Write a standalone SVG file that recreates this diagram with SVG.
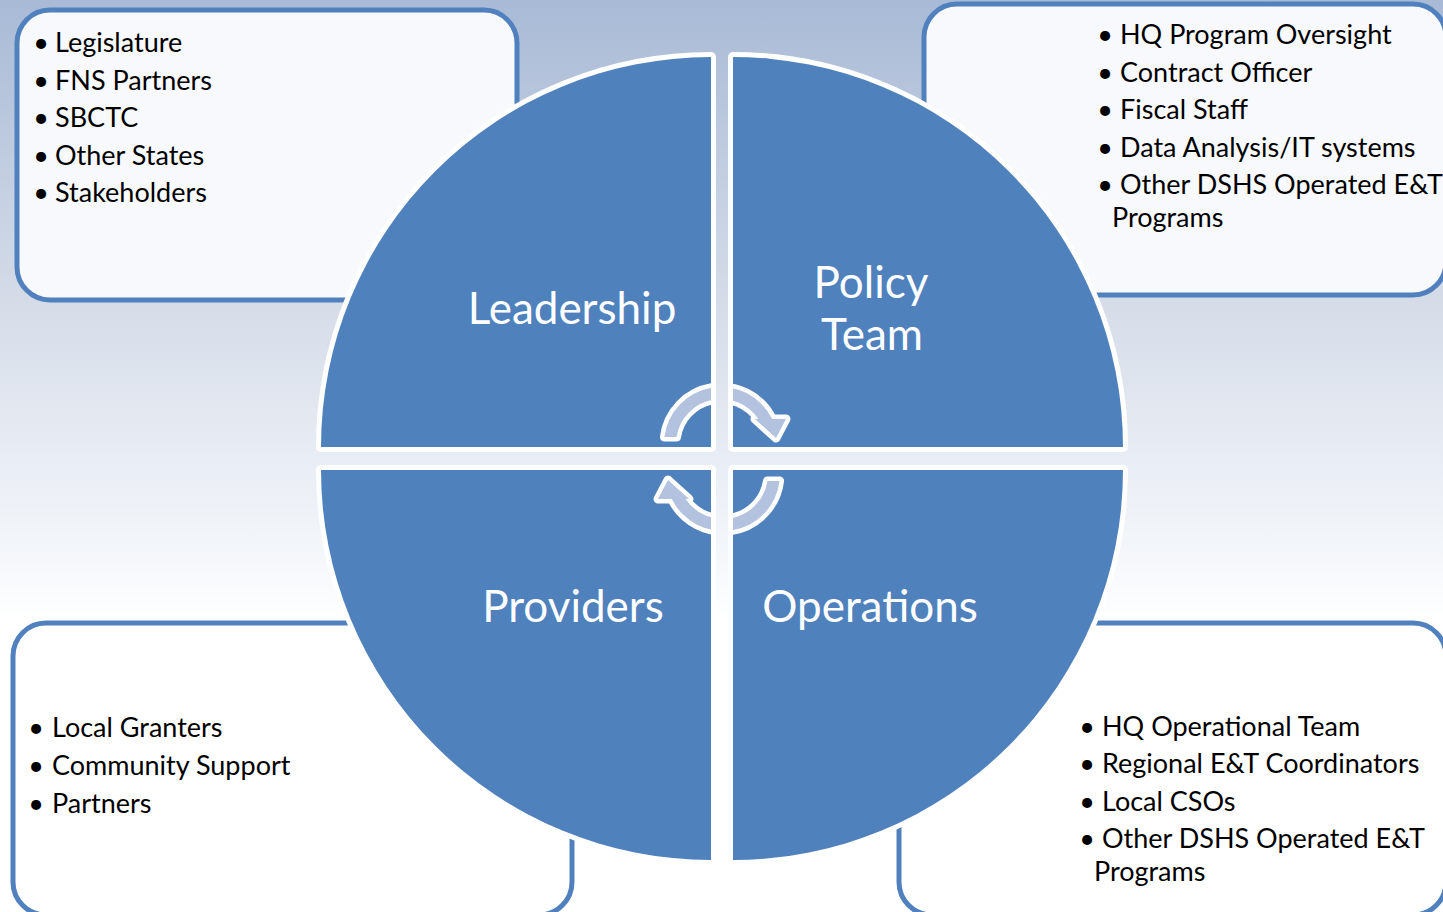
<svg xmlns="http://www.w3.org/2000/svg" width="1443" height="912" viewBox="0 0 1443 912">
  <defs>
    <linearGradient id="bg" x1="0" y1="0" x2="0" y2="912" gradientUnits="userSpaceOnUse">
      <stop offset="0" stop-color="#a8bad6"/>
      <stop offset="0.33" stop-color="#d5dce8"/>
      <stop offset="0.5" stop-color="#e8ecf4"/>
      <stop offset="0.6" stop-color="#f3f6fa"/>
      <stop offset="0.68" stop-color="#ffffff"/>
      <stop offset="1" stop-color="#ffffff"/>
    </linearGradient>
    <style>
      .box { stroke: #5081be; stroke-width: 5; }
      .box-top { fill: #f7f9fc; }
      .box-bottom { fill: #ffffff; }
      .item { font-family: Lato, "Open Sans", sans-serif; font-size: 27px; fill: #000000; }
      .bullet { font-family: Lato, "Open Sans", sans-serif; font-size: 27px; fill: #000000; text-anchor: middle; }
      .quad { fill: #4f81bd; stroke: #ffffff; stroke-width: 10; stroke-linejoin: round; paint-order: stroke; }
      .label { font-family: Lato, "Open Sans", sans-serif; font-size: 44px; fill: #ffffff; text-anchor: middle; }
      .cycle { fill: #b3c2de; stroke: #ffffff; stroke-width: 9; stroke-linejoin: round; paint-order: stroke; }
    </style>
  </defs>

  <!-- backdrop -->
  <rect x="0" y="0" width="1443" height="912" fill="url(#bg)"/>

  <!-- outer boxes listing the members of each quadrant -->
  <g id="box-leadership">
    <rect class="box box-top" x="17" y="10" width="500" height="290" rx="33"/>
    <text class="bullet" x="41" y="52">•</text><text class="item" x="55" y="52">Legislature</text>
    <text class="bullet" x="41" y="90">•</text><text class="item" x="55" y="90">FNS Partners</text>
    <text class="bullet" x="41" y="127">•</text><text class="item" x="55" y="127">SBCTC</text>
    <text class="bullet" x="41" y="165">•</text><text class="item" x="55" y="165">Other States</text>
    <text class="bullet" x="41" y="202">•</text><text class="item" x="55" y="202">Stakeholders</text>
  </g>

  <g id="box-policy">
    <rect class="box box-top" x="924" y="4" width="522" height="291" rx="33"/>
    <text class="bullet" x="1105" y="44">•</text><text class="item" x="1120" y="44">HQ Program Oversight</text>
    <text class="bullet" x="1105" y="82">•</text><text class="item" x="1120" y="82">Contract Officer</text>
    <text class="bullet" x="1105" y="119">•</text><text class="item" x="1120" y="119">Fiscal Staff</text>
    <text class="bullet" x="1105" y="157">•</text><text class="item" x="1120" y="157">Data Analysis/IT systems</text>
    <text class="bullet" x="1105" y="194">•</text><text class="item" x="1120" y="194">Other DSHS Operated E&amp;T</text>
    <text class="item" x="1112" y="227">Programs</text>
  </g>

  <g id="box-providers">
    <rect class="box box-bottom" x="13" y="623" width="559" height="292" rx="33"/>
    <text class="bullet" x="36" y="737">•</text><text class="item" x="52" y="737">Local Granters</text>
    <text class="bullet" x="36" y="775">•</text><text class="item" x="52" y="775">Community Support</text>
    <text class="bullet" x="36" y="813">•</text><text class="item" x="52" y="813">Partners</text>
  </g>

  <g id="box-operations">
    <rect class="box box-bottom" x="899" y="623" width="547" height="292" rx="33"/>
    <text class="bullet" x="1087" y="736">•</text><text class="item" x="1102" y="736">HQ Operational Team</text>
    <text class="bullet" x="1087" y="773">•</text><text class="item" x="1102" y="773">Regional E&amp;T Coordinators</text>
    <text class="bullet" x="1087" y="811">•</text><text class="item" x="1102" y="811">Local CSOs</text>
    <text class="bullet" x="1087" y="848">•</text><text class="item" x="1102" y="848">Other DSHS Operated E&amp;T</text>
    <text class="item" x="1094" y="881">Programs</text>
  </g>

  <!-- the four quarter-circle segments -->
  <g id="leadership">
    <path class="quad" d="M 711,447 L 321,447 A 390 390 0 0 1 711,57 Z"/>
    <text class="label" x="572" y="324">Leadership</text>
  </g>
  <g id="policy-team">
    <path class="quad" d="M 733,447 L 733,57 A 390 390 0 0 1 1123,447 Z"/>
    <text class="label" x="871" y="298">Policy</text>
    <text class="label" x="872" y="350">Team</text>
  </g>
  <g id="providers">
    <path class="quad" d="M 711,470 L 711,860 A 390 390 0 0 1 321,470 Z"/>
    <text class="label" x="573" y="622">Providers</text>
  </g>
  <g id="operations">
    <path class="quad" d="M 733,470 L 1123,470 A 390 390 0 0 1 733,860 Z"/>
    <text class="label" x="870" y="622">Operations</text>
  </g>

  <!-- circular arrows at the hub -->
  <g id="connectors">
    <path class="cycle" d="M 664.4,437 A 57 57 0 0 1 772.2,419 L 786,419 L 776,438 L 755,419 L 758.4,419 A 45 45 0 0 0 676.5,437 Z"/>
    <path class="cycle" transform="rotate(180 722 459)" d="M 664.4,437 A 57 57 0 0 1 772.2,419 L 786,419 L 776,438 L 755,419 L 758.4,419 A 45 45 0 0 0 676.5,437 Z"/>
  </g>

  <!-- vertical divider passing over the arrows -->
  <g id="divider">
    <rect x="711" y="376" width="22" height="71" fill="#ffffff"/>
    <rect x="711" y="470" width="22" height="72" fill="#ffffff"/>
    <rect x="716" y="376" width="12" height="166" fill="url(#bg)"/>
  </g>
</svg>
